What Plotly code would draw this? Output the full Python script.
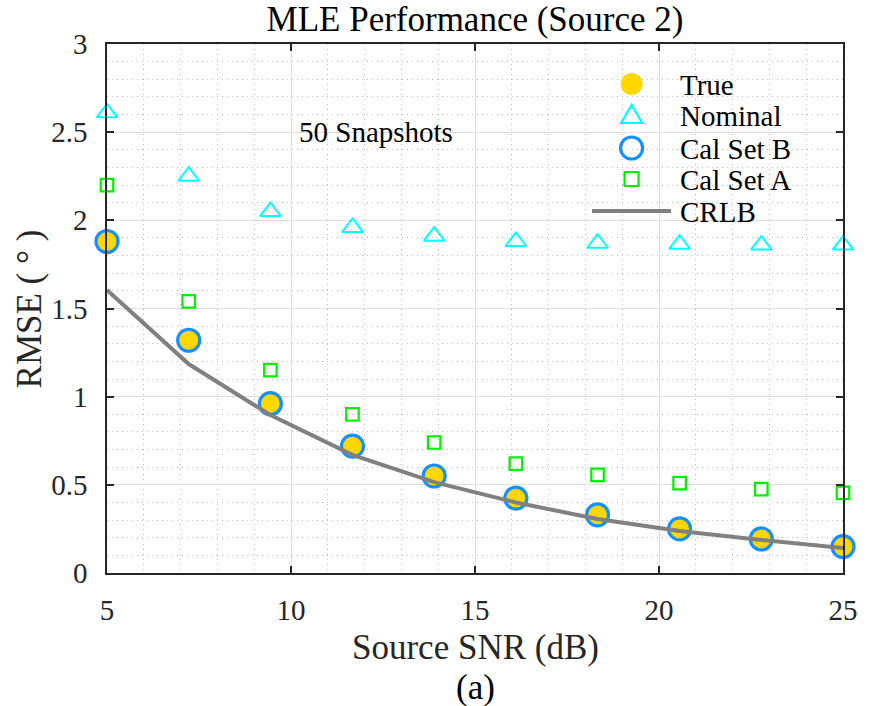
import plotly.graph_objects as go

# SNR sweep (dB) and RMSE results (degrees)
snr_db = [5.0, 7.22, 9.44, 11.67, 13.89, 16.11, 18.33, 20.56, 22.78, 25.0]
rmse_true = [1.88, 1.32, 0.96, 0.72, 0.55, 0.425, 0.33, 0.25, 0.193, 0.15]
rmse_nominal = [2.61, 2.25, 2.05, 1.96, 1.91, 1.88, 1.87, 1.865, 1.86, 1.86]
rmse_cal_b = [1.88, 1.32, 0.96, 0.72, 0.55, 0.425, 0.33, 0.25, 0.193, 0.15]
rmse_cal_a = [2.20, 1.54, 1.15, 0.90, 0.74, 0.62, 0.556, 0.51, 0.476, 0.454]
crlb = [1.605, 1.185, 0.896, 0.67, 0.515, 0.40, 0.306, 0.238, 0.187, 0.142]

x_ticks = [5, 10, 15, 20, 25]
y_ticks = [0, 0.5, 1, 1.5, 2, 2.5, 3]
y_tick_text = ["0", "0.5", "1", "1.5", "2", "2.5", "3"]
legend_names = ["True", "Nominal", "Cal Set B", "Cal Set A", "CRLB"]

FONT = "Liberation Serif, Times New Roman, serif"
INK = "#262626"
GOLD = "#FFD600"
CYAN = "#00FFFF"
BLUE = "#1590FF"
GREEN = "#00F000"
GRAY = "#808080"

# plot-area geometry in pixels (for placing the key and labels)
W, H = 870, 706
L, R, T, B = 107, 18, 44, 133
PW, PH = W - L - R, H - T - B


def px(xp):
    return (xp - L) / PW


def py(yp):
    return (H - B - yp) / PH


fig = go.Figure()
fig.add_trace(go.Scatter(
    x=snr_db, y=rmse_true, mode="markers", name=legend_names[0],
    marker=dict(symbol="circle", size=22, color=GOLD, line=dict(width=0)),
    cliponaxis=False, showlegend=False))
fig.add_trace(go.Scatter(
    x=snr_db, y=rmse_nominal, mode="markers", name=legend_names[1],
    marker=dict(symbol="triangle-up-open", size=18, color=CYAN, line=dict(width=2)),
    cliponaxis=False, showlegend=False))
fig.add_trace(go.Scatter(
    x=snr_db, y=rmse_cal_b, mode="markers", name=legend_names[2],
    marker=dict(symbol="circle-open", size=22, color=BLUE, line=dict(width=3.2)),
    cliponaxis=False, showlegend=False))
fig.add_trace(go.Scatter(
    x=snr_db, y=rmse_cal_a, mode="markers", name=legend_names[3],
    marker=dict(symbol="square-open", size=12.5, color=GREEN, line=dict(width=2.2)),
    cliponaxis=False, showlegend=False))
fig.add_trace(go.Scatter(
    x=snr_db, y=crlb, mode="lines", name=legend_names[4],
    line=dict(color=GRAY, width=4), showlegend=False))

# ---- key (legend) drawn as shapes + text ----
key_x = px(638)
key_text_x = px(685)
key_rows = [84, 115, 148, 179, 211]
shapes = [
    dict(type="circle", xref="paper", yref="paper", xsizemode="pixel", ysizemode="pixel",
         xanchor=key_x, yanchor=py(key_rows[0]), x0=-11, x1=11, y0=-11, y1=11,
         fillcolor=GOLD, line=dict(width=0)),
    dict(type="path", xref="paper", yref="paper", xsizemode="pixel", ysizemode="pixel",
         xanchor=key_x, yanchor=py(key_rows[1]),
         path="M -10.5,-8 L 10.5,-8 L 0,10 Z", line=dict(color=CYAN, width=2.2)),
    dict(type="circle", xref="paper", yref="paper", xsizemode="pixel", ysizemode="pixel",
         xanchor=key_x, yanchor=py(key_rows[2]), x0=-11, x1=11, y0=-11, y1=11,
         line=dict(color=BLUE, width=3.2)),
    dict(type="rect", xref="paper", yref="paper", xsizemode="pixel", ysizemode="pixel",
         xanchor=key_x, yanchor=py(key_rows[3]), x0=-7, x1=7, y0=-7, y1=7,
         line=dict(color=GREEN, width=2.2)),
    dict(type="line", xref="paper", yref="paper",
         x0=px(598), x1=px(678), y0=py(key_rows[4]), y1=py(key_rows[4]),
         line=dict(color=GRAY, width=4)),
]
for shp in shapes:
    fig.add_shape(**shp)

for name, row in zip(legend_names, key_rows):
    fig.add_annotation(x=key_text_x, y=py(row + 1), xref="paper", yref="paper",
                       text=name, showarrow=False, xanchor="left", yanchor="middle",
                       font=dict(family=FONT, size=29, color="black"))

# ---- text labels ----
fig.add_annotation(x=12.3, y=2.5, xref="x", yref="y", text="50 Snapshots",
                   showarrow=False, font=dict(family=FONT, size=29, color="black"))
fig.add_annotation(x=0.5, y=py(647), xref="paper", yref="paper", text="Source SNR (dB)",
                   showarrow=False, yanchor="middle",
                   font=dict(family=FONT, size=35, color=INK))
fig.add_annotation(x=0.5, y=py(687), xref="paper", yref="paper", text="(a)",
                   showarrow=False, yanchor="middle",
                   font=dict(family=FONT, size=35, color="black"))
fig.add_annotation(x=px(29), y=0.5, xref="paper", yref="paper", text="RMSE ( ° )",
                   showarrow=False, textangle=-90, xanchor="center", yanchor="middle",
                   font=dict(family=FONT, size=35, color=INK))

axis_common = dict(
    showline=True, linecolor=INK, linewidth=1.5, mirror="allticks",
    ticks="inside", ticklen=7, tickcolor=INK, tickwidth=1.5,
    showgrid=True, gridcolor="#DEDEDE", gridwidth=1,
    zeroline=False,
    tickfont=dict(family=FONT, size=29, color=INK),
)

fig.update_xaxes(
    range=[5, 25], tickvals=x_ticks, ticklabelstandoff=10,
    minor=dict(dtick=1, showgrid=True, gridcolor="#BDBDBD", griddash="1px,4px", gridwidth=1),
    **axis_common)
fig.update_yaxes(
    range=[0, 3], tickvals=y_ticks, ticktext=y_tick_text, ticklabelstandoff=12,
    minor=dict(dtick=0.1, showgrid=True, gridcolor="#BDBDBD", griddash="1px,4px", gridwidth=1),
    **axis_common)

fig.update_layout(
    width=W, height=H,
    margin=dict(l=L, r=R, t=T, b=B),
    paper_bgcolor="white", plot_bgcolor="white",
    title=dict(text="MLE Performance (Source 2)", xref="paper", x=0.5, xanchor="center",
               yref="container", y=1 - 19 / H, yanchor="middle",
               font=dict(family=FONT, size=35, color="black")),
    showlegend=False,
)

fig.write_html("out.html")
